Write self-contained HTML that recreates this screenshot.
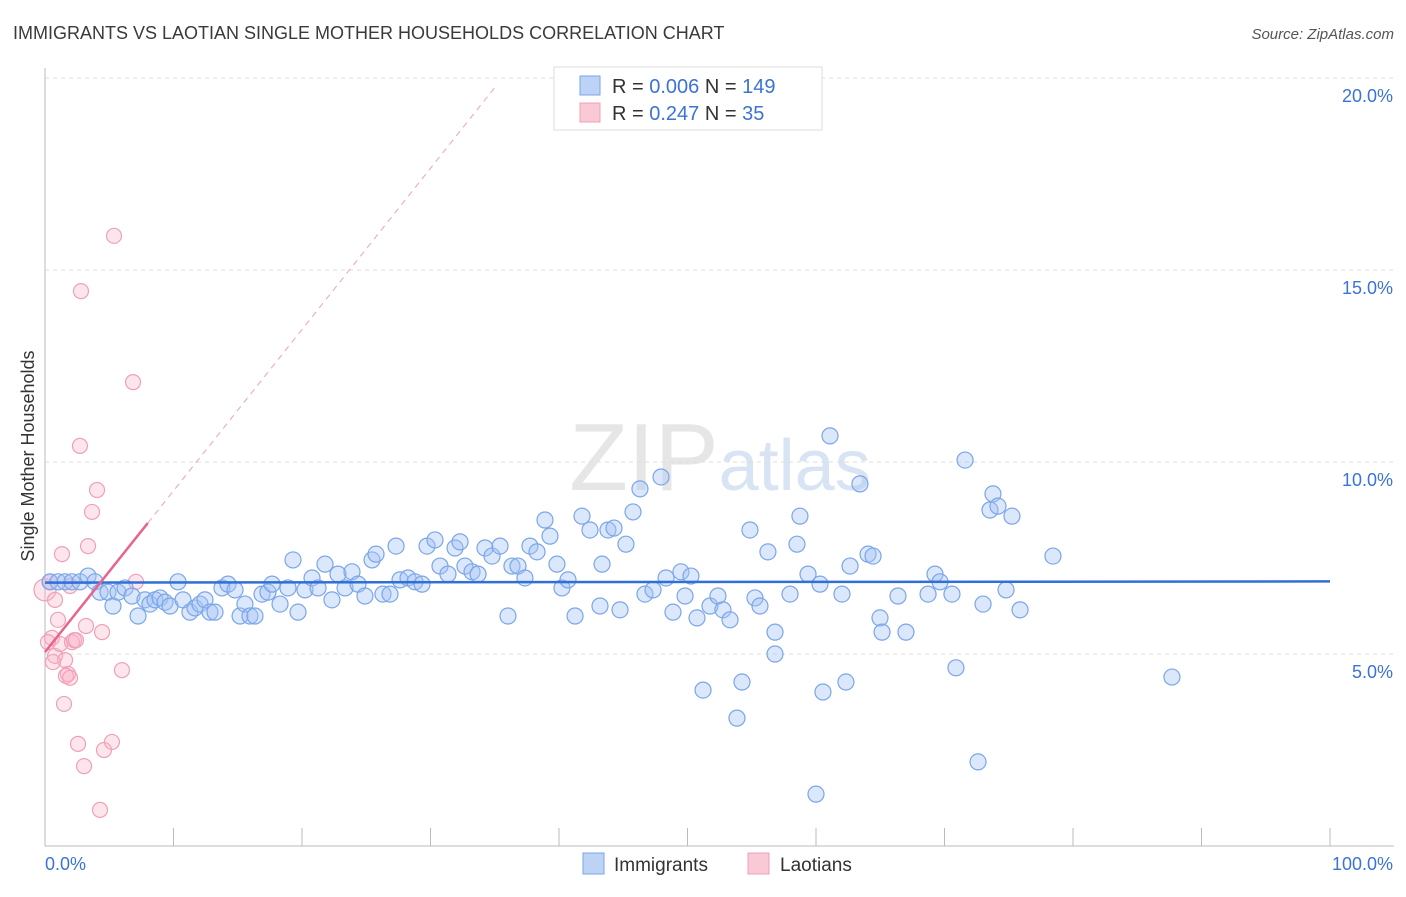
<!DOCTYPE html>
<html><head><meta charset="utf-8"><style>
body{margin:0;background:#fff;font-family:"Liberation Sans",sans-serif;}
svg text{font-family:"Liberation Sans",sans-serif;}
</style></head><body>
<svg id="chart" width="1406" height="892" xmlns="http://www.w3.org/2000/svg">
<text x="13" y="39" font-size="18" fill="#3a3a3a">IMMIGRANTS VS LAOTIAN SINGLE MOTHER HOUSEHOLDS CORRELATION CHART</text>
<text x="1394" y="39" font-size="15" fill="#555" text-anchor="end" font-style="italic">Source: ZipAtlas.com</text>
<text x="720" y="490" font-size="96" fill="#e6e6e6" text-anchor="middle" font-family="Liberation Serif"><tspan>ZIP</tspan><tspan fill="#d8e4f4" font-family="Liberation Sans" font-size="72">atlas</tspan></text>
<g id="grid"></g><g id="axes"></g><g id="marks"></g>
<text transform="translate(34,456) rotate(-90)" font-size="18" fill="#333" text-anchor="middle">Single Mother Households</text>
<g>
<rect x="554" y="67" width="268" height="63" fill="#fff" stroke="#ddd"/>
<rect x="580" y="76" width="20" height="19" fill="#bcd3f5" stroke="#7aa6e8"/>
<rect x="580" y="103" width="20" height="19" fill="#f9c9d6" stroke="#f0a0b8"/>
<text x="612" y="93" font-size="20" fill="#333">R = <tspan fill="#3b73d6">0.006</tspan>   N = <tspan fill="#3b73d6">149</tspan></text>
<text x="612" y="120" font-size="20" fill="#333">R =  <tspan fill="#3b73d6">0.247</tspan>   N =  <tspan fill="#3b73d6">35</tspan></text>
</g>
<g>
<rect x="583" y="853" width="21" height="21" fill="#bcd3f5" stroke="#7aa6e8"/>
<text x="614" y="871" font-size="19" fill="#333">Immigrants</text>
<rect x="748" y="853" width="21" height="21" fill="#f9c9d6" stroke="#f0a0b8"/>
<text x="780" y="871" font-size="19" fill="#333">Laotians</text>
</g>
</svg>
<script>
const yTicks=[5,10,15,20];
const yTickLabels=["5.0%","10.0%","15.0%","20.0%"];
const xTicks=[0,10,20,30,40,50,60,70,80,90,100];
const blueX=[0.39,1.01,1.56,2.10,2.72,3.35,3.89,4.28,4.90,5.29,5.68,6.23,6.77,7.24,7.78,8.17,8.56,8.95,9.34,9.73,10.35,10.74,11.28,11.67,12.06,12.45,12.84,13.23,13.77,14.24,14.79,15.18,15.56,15.95,16.34,16.89,17.35,17.67,18.29,18.91,19.30,19.69,20.23,20.78,21.25,21.79,22.33,22.80,23.35,23.89,24.36,24.90,25.45,25.76,26.30,26.85,27.32,27.63,28.25,28.79,29.34,29.73,30.35,30.74,31.36,31.91,32.30,32.68,33.23,33.70,34.24,34.79,35.41,36.03,36.34,36.81,37.35,37.74,38.29,38.91,39.30,39.84,40.23,40.70,41.25,41.79,42.41,43.19,43.35,43.81,44.28,44.75,45.21,45.76,46.30,46.69,47.32,47.94,48.33,48.87,49.49,49.81,50.27,50.74,51.21,51.75,52.37,52.76,53.31,53.85,54.24,54.86,55.25,55.64,56.26,56.81,56.81,57.98,58.52,58.75,59.38,60.00,60.31,60.54,61.09,62.02,62.33,62.65,63.42,64.05,64.44,64.98,65.14,66.38,67.00,68.72,69.26,69.65,70.58,70.89,71.60,73.00,73.54,73.77,74.16,74.79,75.25,75.88,78.44,87.70,72.61];
const blueY=[6.88,6.88,6.88,6.88,6.88,7.03,6.88,6.61,6.61,6.25,6.61,6.72,6.51,5.99,6.41,6.30,6.41,6.46,6.35,6.25,6.88,6.41,6.09,6.20,6.30,6.41,6.09,6.09,6.72,6.82,6.67,5.99,6.30,5.99,5.99,6.56,6.61,6.82,6.30,6.72,7.45,6.09,6.67,6.98,6.72,7.34,6.41,7.08,6.72,7.14,6.82,6.51,7.45,7.60,6.56,6.56,7.81,6.93,6.98,6.88,6.82,7.81,7.97,7.29,7.08,7.76,7.92,7.29,7.14,7.08,7.76,7.55,7.81,5.99,7.29,7.29,6.98,7.81,7.66,8.49,8.07,7.34,6.72,6.93,5.99,8.59,8.23,6.25,7.34,8.23,8.28,6.15,7.86,8.70,9.30,6.56,6.67,9.61,6.98,6.09,7.14,6.51,7.03,5.94,4.06,6.25,6.51,6.15,5.89,3.33,4.27,8.23,6.46,6.25,7.66,5.57,5.00,6.56,7.86,8.59,7.08,1.35,6.82,4.01,10.68,6.56,4.27,7.29,9.43,7.60,7.55,5.94,5.57,6.51,5.57,6.56,7.08,6.88,6.56,4.64,10.05,6.30,8.75,9.17,8.85,6.67,8.59,6.15,7.55,4.40,2.19];
const pinkX=[0,0.39,0.54,0.78,1.01,1.17,1.32,1.56,1.79,1.95,2.10,2.26,2.41,2.57,2.72,2.80,3.04,3.19,3.35,3.66,4.05,4.28,4.44,4.59,5.21,5.37,5.99,6.85,7.08,1.48,1.63,1.95,0.78,0.23,0.62];
const pinkY=[6.67,6.88,5.42,4.95,5.89,5.26,7.60,4.84,4.48,6.77,5.31,5.36,5.36,2.66,10.42,14.45,2.08,5.73,7.81,8.70,9.27,0.94,5.57,2.50,2.71,15.89,4.58,12.08,6.88,3.70,4.43,4.38,6.41,5.31,4.79];
const blueTrend=[6.86,6.89];
const pinkTrend=[5.05,0.42];
const NS="http://www.w3.org/2000/svg";
const X0=45,X1=1330,Y0=846,YS=38.4;
function sx(v){return X0+(X1-X0)*v/100;}
function sy(v){return Y0-v*YS;}
function mk(tag,attrs,parent){const e=document.createElementNS(NS,tag);for(const k in attrs)e.setAttribute(k,attrs[k]);parent.appendChild(e);return e;}
const grid=document.getElementById('grid'),axes=document.getElementById('axes'),marks=document.getElementById('marks');
yTicks.forEach((t,i)=>{
 const l=mk('line',{x1:X0,x2:1394,y1:sy(t),y2:sy(t),stroke:'#ddd','stroke-dasharray':'4,4'},grid);
 
 
 const tx=mk('text',{x:1393,y:sy(t)+24,'font-size':18,fill:'#3b73d6','text-anchor':'end'},axes);
 tx.textContent=yTickLabels[i];
 
 
});
const ax=mk('line',{x1:X0,x2:X0,y1:68,y2:Y0,stroke:'#bbb'},axes);


const bx=mk('line',{x1:X0,x2:1394,y1:Y0,y2:Y0,stroke:'#bbb'},axes);


xTicks.forEach(t=>{
 const l=mk('line',{x1:sx(t),x2:sx(t),y1:828,y2:Y0,stroke:'#bbb'},axes);
 
 
});
const xl0=mk('text',{x:45,y:870,'font-size':18,fill:'#3b73d6'},axes);xl0.textContent='0.0%';


const xl1=mk('text',{x:1393,y:870,'font-size':18,fill:'#3b73d6','text-anchor':'end'},axes);xl1.textContent='100.0%';


pinkX.forEach((x,i)=>{
 const c=mk('circle',{cx:sx(x),cy:sy(pinkY[i]),r:i===0?11:7.5,fill:'rgba(248,180,200,0.35)',stroke:'#f0a0b8','stroke-width':1.2},marks);
 
 
});
blueX.forEach((x,i)=>{
 const c=mk('circle',{cx:sx(x),cy:sy(blueY[i]),r:8,fill:'rgba(164,194,244,0.4)',stroke:'#7aa6e8','stroke-width':1.2},marks);
 
 
});
const bt=mk('line',{x1:sx(0),x2:sx(100),y1:sy(blueTrend[0]),y2:sy(blueTrend[1]),stroke:'#2f6fd6','stroke-width':2.5},marks);


const pe=35.2;
const pd=mk('line',{x1:sx(8),x2:sx(pe),y1:sy(pinkTrend[0]+pinkTrend[1]*8),y2:sy(pinkTrend[0]+pinkTrend[1]*pe),stroke:'#f0a0b8','stroke-width':1,'stroke-dasharray':'6,5'},marks);


const pt=mk('line',{x1:sx(0),x2:sx(8),y1:sy(pinkTrend[0]),y2:sy(pinkTrend[0]+pinkTrend[1]*8),stroke:'#e8648c','stroke-width':2.5},marks);


</script>
</body></html>
